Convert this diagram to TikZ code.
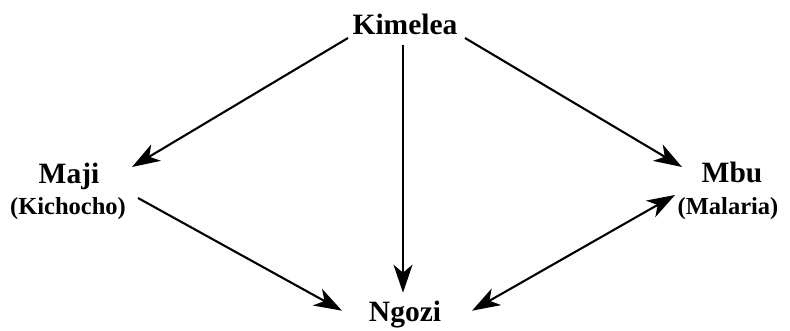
\documentclass[tikz,border=0pt]{standalone}
\usepackage{fontspec}
\setmainfont{Liberation Serif}
\usetikzlibrary{arrows.meta,calc}
\begin{document}
\begin{tikzpicture}[x=1pt,y=-1pt,
  lab/.style={font=\bfseries\fontsize{29.5}{30}\selectfont, inner sep=0pt, anchor=base},
  sub/.style={font=\bfseries\fontsize{24.5}{26}\selectfont, inner sep=0pt, anchor=base},
  tip/.tip={Stealth[length=28pt,width=19pt,inset=8pt]},
  arr/.style={-tip, line width=2.1pt},
  darr/.style={tip-tip, line width=2.1pt}]
\useasboundingbox (0,0) rectangle (790,331);
\node[lab] (kim) at (405,35) {Kimelea};
\node[lab] (maji) at (69,184) {Maji};
\node[sub] (kich) at (68,215) {(Kichocho)};
\node[lab] (mbu) at (732,183) {Mbu};
\node[sub] (mal) at (728,215) {(Malaria)};
\node[lab] (ngozi) at (405,321.7) {Ngozi};
\draw[arr] ($(kim.base)+(-57,3)$) -- ($(maji.base)+(63,-17)$);
\draw[arr] ($(kim.base)+(60,3)$) -- ($(mbu.base)+(-50,-16)$);
\draw[arr] ($(kim.base)+(-2,10)$) -- ($(ngozi.base)+(-2,-29)$);
\draw[arr] ($(kich.base)+(70,-17)$) -- ($(ngozi.base)+(-63,-11)$);
\draw[darr] ($(ngozi.base)+(67,-11)$) -- ($(mal.base)+(-53,-20)$);
\end{tikzpicture}
\end{document}
